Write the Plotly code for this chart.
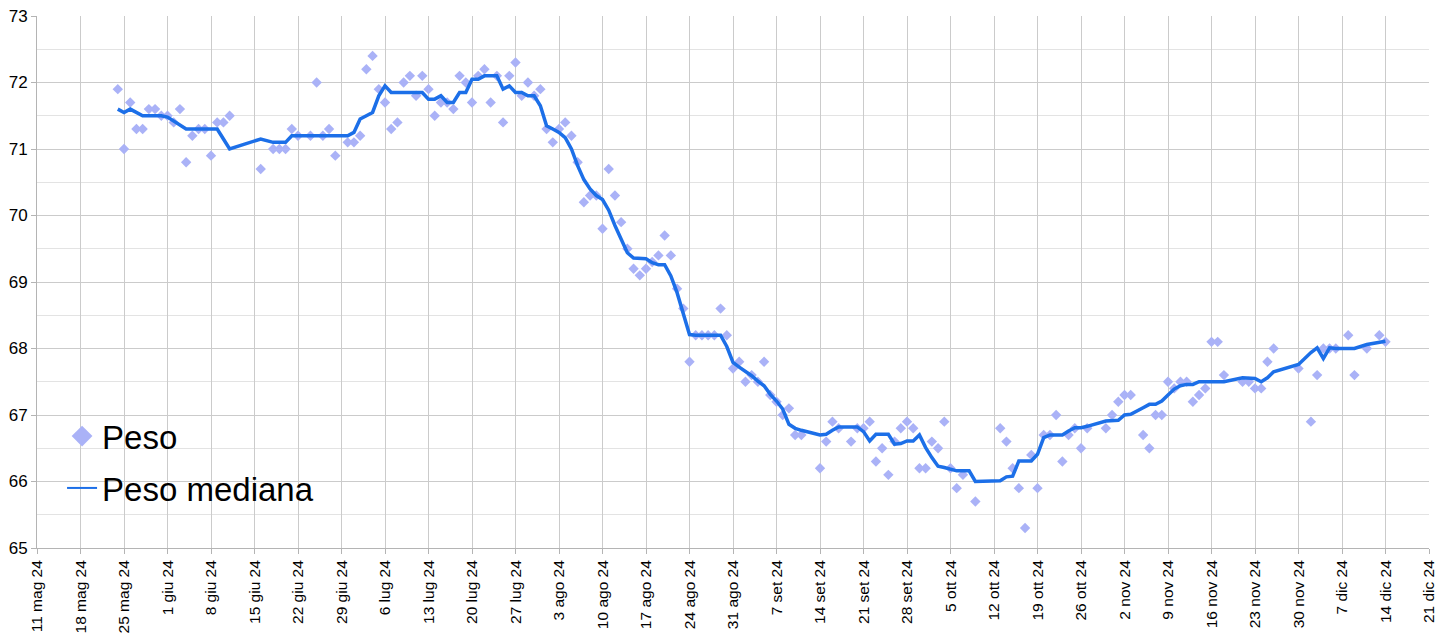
import plotly.graph_objects as go

# giorni di misura (2024)
dates = (
    ["2024-05-%02d" % d for d in [24, 25, 26, 27, 28, 29, 30, 31]]
    + ["2024-06-%02d" % d for d in [1, 2, 3, 4, 5, 6, 7, 8, 9, 10, 11, 16, 18, 19, 20, 21, 22,
                                    24, 25, 26, 27, 28, 30]]
    + ["2024-07-%02d" % d for d in range(1, 32)]
    + ["2024-08-%02d" % d for d in range(1, 32)]
    + ["2024-09-%02d" % d for d in [1, 2, 3, 4, 5, 6, 7, 8, 9, 10, 11, 14, 15, 16, 17, 19, 20,
                                    21, 22, 23, 24, 25, 26, 27, 28, 29, 30]]
    + ["2024-10-%02d" % d for d in [1, 2, 3, 4, 5, 6, 7, 8, 9, 13, 14, 15, 16, 17, 18, 19, 20,
                                    21, 22, 23, 24, 25, 26, 27, 30, 31]]
    + ["2024-11-%02d" % d for d in [1, 2, 3, 5, 6, 7, 8, 9, 10, 11, 12, 13, 14, 15, 16, 17, 18,
                                    21, 22, 23, 24, 25, 26, 30]]
    + ["2024-12-%02d" % d for d in [2, 3, 4, 5, 6, 8, 9, 11, 13, 14]]
)

peso = [
    # mag
    71.9, 71.0, 71.7, 71.3, 71.3, 71.6, 71.6, 71.5,
    # giu
    71.5, 71.4, 71.6, 70.8, 71.2, 71.3, 71.3, 70.9, 71.4, 71.4, 71.5, 70.7, 71.0, 71.0, 71.0,
    71.3, 71.2, 71.2, 72.0, 71.2, 71.3, 70.9, 71.1,
    # lug
    71.1, 71.2, 72.2, 72.4, 71.9, 71.7, 71.3, 71.4, 72.0, 72.1, 71.8, 72.1, 71.9, 71.5, 71.7,
    71.7, 71.6, 72.1, 72.0, 71.7, 72.1, 72.2, 71.7, 72.1, 71.4, 72.1, 72.3, 71.8, 72.0, 71.8,
    71.9,
    # ago
    71.3, 71.1, 71.3, 71.4, 71.2, 70.8, 70.2, 70.3, 70.3, 69.8, 70.7, 70.3, 69.9, 69.5, 69.2,
    69.1, 69.2, 69.3, 69.4, 69.7, 69.4, 68.9, 68.6, 67.8, 68.2, 68.2, 68.2, 68.2, 68.6, 68.2,
    67.7,
    # set
    67.8, 67.5, 67.6, 67.5, 67.8, 67.3, 67.2, 67.0, 67.1, 66.7, 66.7, 66.2, 66.6, 66.9, 66.8,
    66.6, 66.8, 66.8, 66.9, 66.3, 66.5, 66.1, 66.6, 66.8, 66.9, 66.8, 66.2,
    # ott
    66.2, 66.6, 66.5, 66.9, 66.2, 65.9, 66.1, None, 65.7, 66.8, 66.6, 66.2, 65.9, 65.3, 66.4,
    65.9, 66.7, 66.7, 67.0, 66.3, 66.7, 66.8, 66.5, 66.8, 66.8, 67.0,
    # nov
    67.2, 67.3, 67.3, 66.7, 66.5, 67.0, 67.0, 67.5, 67.4, 67.5, 67.5, 67.2, 67.3, 67.4, 68.1,
    68.1, 67.6, 67.5, 67.5, 67.4, 67.4, 67.8, 68.0, 67.7,
    # dic
    66.9, 67.6, 68.0, 68.0, 68.0, 68.2, 67.6, 68.0, 68.2, 68.1,
]

peso_mediana = [
    # mag
    71.6, 71.55, 71.6, 71.55, 71.5, 71.5, 71.5, 71.5,
    # giu
    71.48, 71.42, 71.36, 71.3, 71.3, 71.3, 71.3, 71.3, 71.3, 71.15, 71.0, 71.15, 71.1, 71.1,
    71.1, 71.2, 71.2, 71.2, 71.2, 71.2, 71.2, 71.2, 71.2,
    # lug
    71.25, 71.45, 71.5, 71.55, 71.8, 71.95, 71.85, 71.85, 71.85, 71.85, 71.85, 71.85, 71.75,
    71.75, 71.8, 71.7, 71.7, 71.85, 71.85, 72.05, 72.05, 72.1, 72.1, 72.1, 71.9, 71.95, 71.85,
    71.85, 71.8, 71.8, 71.65,
    # ago
    71.35, 71.3, 71.25, 71.17, 71.0, 70.75, 70.54, 70.4, 70.3, 70.24, 70.08, 69.85, 69.64,
    69.44, 69.36, 69.35, 69.35, 69.29, 69.26, 69.26, 69.09, 68.84, 68.54, 68.21, 68.2, 68.2,
    68.2, 68.2, 68.2, 68.03, 67.79,
    # set
    67.72, 67.66, 67.59, 67.51, 67.44, 67.31, 67.21, 67.09, 66.86, 66.8, 66.77, 66.7, 66.71,
    66.77, 66.82, 66.82, 66.82, 66.75, 66.61, 66.71, 66.71, 66.71, 66.56, 66.57, 66.61, 66.61,
    66.7,
    # ott
    66.51, 66.36, 66.23, 66.21, 66.19, 66.16, 66.16, 66.16, 66.0, 66.01, 66.07, 66.08, 66.31,
    66.31, 66.31, 66.41, 66.66, 66.7, 66.7, 66.7, 66.76, 66.81, 66.81, 66.83, 66.91, 66.91,
    # nov
    66.92, 67.0, 67.01, 67.11, 67.16, 67.16, 67.21, 67.3, 67.39, 67.44, 67.46, 67.46, 67.5,
    67.5, 67.5, 67.5, 67.5, 67.56, 67.56, 67.55, 67.5, 67.56, 67.65, 67.76,
    # dic
    67.94, 68.01, 67.85, 68.01, 68.0, 68.0, 68.0, 68.06, 68.1, 68.11,
]

tick_dates = [
    "2024-05-11", "2024-05-18", "2024-05-25", "2024-06-01", "2024-06-08", "2024-06-15",
    "2024-06-22", "2024-06-29", "2024-07-06", "2024-07-13", "2024-07-20", "2024-07-27",
    "2024-08-03", "2024-08-10", "2024-08-17", "2024-08-24", "2024-08-31", "2024-09-07",
    "2024-09-14", "2024-09-21", "2024-09-28", "2024-10-05", "2024-10-12", "2024-10-19",
    "2024-10-26", "2024-11-02", "2024-11-09", "2024-11-16", "2024-11-23", "2024-11-30",
    "2024-12-07", "2024-12-14", "2024-12-21",
]
tick_labels = [
    "11 mag 24", "18 mag 24", "25 mag 24", "1 giu 24", "8 giu 24", "15 giu 24",
    "22 giu 24", "29 giu 24", "6 lug 24", "13 lug 24", "20 lug 24", "27 lug 24",
    "3 ago 24", "10 ago 24", "17 ago 24", "24 ago 24", "31 ago 24", "7 set 24",
    "14 set 24", "21 set 24", "28 set 24", "5 ott 24", "12 ott 24", "19 ott 24",
    "26 ott 24", "2 nov 24", "9 nov 24", "16 nov 24", "23 nov 24", "30 nov 24",
    "7 dic 24", "14 dic 24", "21 dic 24",
]
y_ticks = [65, 66, 67, 68, 69, 70, 71, 72, 73]

marker_col = "#aab2f7"
line_col = "#1c6fe8"

fig = go.Figure()
fig.add_trace(go.Scatter(
    x=dates, y=peso, name="Peso", mode="markers", showlegend=False,
    marker=dict(symbol="diamond", size=8, color=marker_col),
))
fig.add_trace(go.Scatter(
    x=dates, y=peso_mediana, name="Peso mediana", mode="lines", showlegend=False,
    line=dict(color=line_col, width=3.5), connectgaps=True,
))
# voci di legenda (simboli piu' grandi / linea sottile come nell'originale)
fig.add_trace(go.Scatter(
    x=[None], y=[None], name="Peso", mode="markers", legendgroup="a",
    marker=dict(symbol="diamond", size=16, color=marker_col),
))
fig.add_trace(go.Scatter(
    x=[None], y=[None], name="Peso mediana", mode="lines", legendgroup="b",
    line=dict(color=line_col, width=2),
))

# la pagina ha un margine di 8px: figura un po' piu' piccola della finestra
fig.update_layout(
    width=1430, height=625,
    margin=dict(l=29, r=9, t=8, b=85),
    plot_bgcolor="white", paper_bgcolor="white",
    font=dict(family="Liberation Sans, Arial, sans-serif", color="black"),
    legend=dict(x=0.018, y=0.263, xanchor="left", yanchor="top",
                font=dict(size=33), bgcolor="rgba(0,0,0,0)",
                itemsizing="trace", tracegroupgap=6, traceorder="grouped"),
    xaxis=dict(
        type="date", range=["2024-05-11", "2024-12-21"], automargin=False,
        tickvals=tick_dates, ticktext=tick_labels, tickangle=-90,
        tickfont=dict(size=15.5), ticks="outside", ticklen=5, tickcolor="#b4b4b4",
        showgrid=True, gridcolor="#cbcbcb", gridwidth=1, ticklabeloverflow="allow",
        showline=True, linecolor="#b4b4b4", zeroline=False,
    ),
    yaxis=dict(
        range=[65, 73], tickvals=y_ticks, automargin=False, tickfont=dict(size=17),
        ticks="outside", ticklen=5, tickcolor="#b4b4b4", ticklabeloverflow="allow",
        showgrid=True, gridcolor="#cbcbcb", gridwidth=1,
        minor=dict(dtick=0.5, showgrid=True, gridcolor="#e3e3e3"),
        showline=True, linecolor="#b4b4b4", zeroline=False,
    ),
)

fig.write_html("out.html")
